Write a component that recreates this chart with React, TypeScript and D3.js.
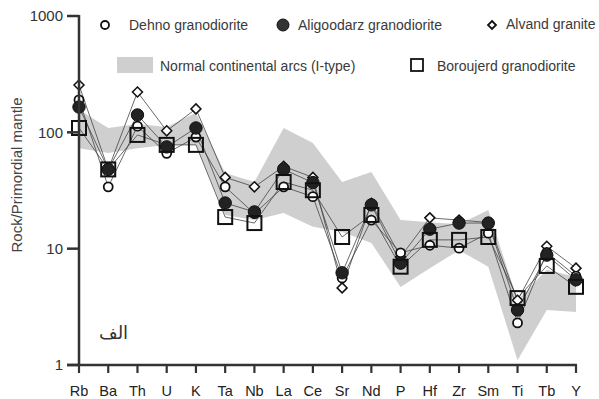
import React from "react";
import * as d3 from "d3";

// Spider diagram: trace elements normalised to primordial mantle
const elements = ["Rb", "Ba", "Th", "U", "K", "Ta", "Nb", "La", "Ce", "Sr", "Nd", "P", "Hf", "Zr", "Sm", "Ti", "Tb", "Y"];

const dehno = [190, 34, 113, 66, 91, 34, 20, 34, 28, 5.6, 17.6, 9.2, 10.7, 10.1, 13.6, 2.3, 9.3, 5.8];
const aligoodarz = [165, 48, 141, 75, 109, 24.7, 20.7, 48, 37, 6.2, 23.8, 7.5, 14.7, 16.6, 16.6, 2.97, 8.8, 5.4];
const alvand = [255, 48, 222, 103, 159, 41, 34, 51, 41, 4.6, 24.5, 8.5, 18.4, 17.6, 16.8, 3.6, 10.5, 6.8];
const boroujerd = [109, 48, 95, 78, 78, 18.7, 16.6, 37.4, 31.8, 12.6, 19.5, 7.0, 11.9, 11.9, 12.6, 3.76, 7.1, 4.7];

// Normal continental arcs (I-type) envelope
const arcUpper = [156, 109, 118, 111, 147, 44.8, 37.4, 109, 81, 37.4, 45.7, 17.6, 16.9, 16.2, 21.5, 3.6, 6.6, 5.7];
const arcLower = [73, 66.5, 73, 78, 78, 19.5, 17.6, 20.3, 15.4, 13.9, 11.2, 4.68, 6.8, 9.7, 7.0, 1.1, 2.97, 2.85];

const yTicks = [1, 10, 100, 1000];

const W = 599;
const H = 399;
const FONT = "'Liberation Sans', Arial, sans-serif";
const INK = "#333";

export default function App() {
  const x = d3.scalePoint<string>().domain(elements).range([79, 576]);
  const y = d3.scaleLog().domain([1, 1000]).range([365, 16]);

  const line = d3
    .line<number>()
    .x((_, i) => x(elements[i]) as number)
    .y((v) => y(v));

  const area = d3
    .area<number>()
    .x((_, i) => x(elements[i]) as number)
    .y0((_, i) => y(arcLower[i]))
    .y1((v) => y(v));

  const series = [dehno, aligoodarz, alvand, boroujerd];

  const diamond = (cx: number, cy: number, r: number) =>
    `M${cx},${cy - r}L${cx + r},${cy}L${cx},${cy + r}L${cx - r},${cy}Z`;

  return (
    <svg
      width={W}
      height={H}
      style={{ position: "absolute", left: 0, top: 0, background: "#fff" }}
      fontFamily={FONT}
    >
      {/* arc envelope */}
      <path d={area(arcUpper) ?? ""} fill="#cfcfcf" stroke="none" />

      {/* series lines */}
      {series.map((s, k) => (
        <path key={k} d={line(s) ?? ""} fill="none" stroke="#444" strokeWidth={0.8} />
      ))}

      {/* Alvand: diamonds */}
      {alvand.map((v, i) => (
        <path key={"v" + i} d={diamond(x(elements[i]) as number, y(v), 5)} fill="#fff" stroke="#111" strokeWidth={1.5} />
      ))}
      {/* Dehno: open circles */}
      {dehno.map((v, i) => (
        <circle key={"d" + i} cx={x(elements[i])} cy={y(v)} r={4.5} fill="#fff" stroke="#111" strokeWidth={1.8} />
      ))}
      {/* Aligoodarz: filled circles */}
      {aligoodarz.map((v, i) => (
        <circle key={"a" + i} cx={x(elements[i])} cy={y(v)} r={6.2} fill="#222" stroke="#111" strokeWidth={1} />
      ))}
      {/* Boroujerd: open squares */}
      {boroujerd.map((v, i) => (
        <rect
          key={"b" + i}
          x={(x(elements[i]) as number) - 7}
          y={y(v) - 7}
          width={14}
          height={14}
          fill="none"
          stroke="#111"
          strokeWidth={2}
        />
      ))}

      {/* y axis */}
      <line x1={79} x2={79} y1={15} y2={366} stroke={INK} strokeWidth={2.5} />
      {yTicks.map((t) => (
        <g key={t}>
          <line x1={67} x2={79} y1={y(t)} y2={y(t)} stroke={INK} strokeWidth={2.5} />
          <text x={63} y={y(t)} dy="0.36em" textAnchor="end" fontSize={15} fill={INK}>
            {t}
          </text>
        </g>
      ))}

      {/* x axis */}
      <line x1={67} x2={577} y1={365} y2={365} stroke={INK} strokeWidth={2.5} />
      {elements.map((e) => (
        <g key={e}>
          <line x1={x(e)} x2={x(e)} y1={365} y2={373} stroke={INK} strokeWidth={2.2} />
          <text x={x(e)} y={396} textAnchor="middle" fontSize={14.5} fill="#222">
            {e}
          </text>
        </g>
      ))}

      {/* axis title */}
      <text
        transform="translate(22,175) rotate(-90)"
        textAnchor="middle"
        fontSize={15}
        fill="#444"
      >
        Rock/Primordial mantle
      </text>

      {/* panel label */}
      <text x={99} y={339} fontSize={18} fontFamily="'DejaVu Sans', sans-serif" fill="#333">
        الف
      </text>

      {/* legend */}
      <g fontSize={14} fill="#3a3a3a">
        <circle cx={105} cy={25} r={4} fill="#fff" stroke="#111" strokeWidth={1.8} />
        <text x={129} y={30}>Dehno granodiorite</text>

        <circle cx={283} cy={25} r={6} fill="#333" stroke="#111" strokeWidth={1} />
        <text x={298} y={30}>Aligoodarz granodiorite</text>

        <path d={diamond(492, 25, 4)} fill="#fff" stroke="#111" strokeWidth={1.8} />
        <text x={506} y={29}>Alvand granite</text>

        <rect x={117} y={57} width={36} height={16} fill="#cfcfcf" />
        <text x={160} y={71}>Normal continental arcs (I-type)</text>

        <rect x={411} y={59} width={12} height={12} fill="#fff" stroke="#111" strokeWidth={1.8} />
        <text x={437} y={71}>Boroujerd granodiorite</text>
      </g>
    </svg>
  );
}
